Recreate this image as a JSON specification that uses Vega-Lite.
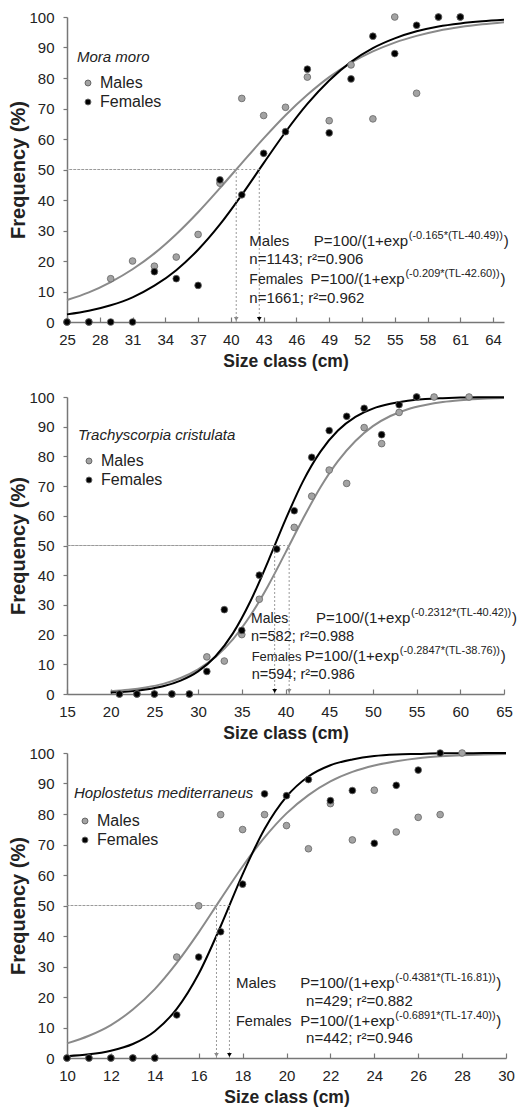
{
"$schema": "https://vega.github.io/schema/vega-lite/v6.json",
"padding": {"left": 8, "top": 10, "right": 5, "bottom": 3},
"spacing": 20,
"resolve": {"scale": {"fill": "independent", "color": "independent"}, "legend": {"fill": "independent", "color": "independent"}},
"config": {
 "font": "Liberation Sans",
 "view": {"stroke": null},
 "axis": {"grid": false, "domainColor": "#777777", "domainWidth": 1.5, "tickColor": "#777777", "tickWidth": 1.2, "labelFontSize": 15, "labelColor": "#222222", "titleFontSize": 17.5, "titleColor": "#222222", "titleFontWeight": "bold", "labelOverlap": false, "labelFlush": false},
 "axisX": {"tickSize": -5, "labelPadding": 15, "titlePadding": 5},
 "axisY": {"tickSize": 4, "labelPadding": 9, "titleFontSize": 20, "titlePadding": 0},
 "legend": {"labelFontSize": 16, "labelColor": "#222222", "titleFontSize": 15, "titleFontStyle": "italic", "titleFontWeight": "normal", "titleColor": "#222222", "symbolType": "circle", "symbolSize": 35, "rowPadding": 3, "titlePadding": 10, "symbolOffset": 3, "labelOffset": 4, "symbolStrokeWidth": 1, "symbolStrokeColor": "#666666", "titleLimit": 400}
},
"datasets": {
 "p1": [
  {"sex":"Males","size":25,"p":0},{"sex":"Males","size":27,"p":0},{"sex":"Males","size":29,"p":14.2},{"sex":"Males","size":31,"p":20.0},{"sex":"Males","size":33,"p":18.3},{"sex":"Males","size":35,"p":21.3},{"sex":"Males","size":37,"p":28.7},{"sex":"Males","size":39,"p":45.5},{"sex":"Males","size":41,"p":73.3},{"sex":"Males","size":43,"p":67.7},{"sex":"Males","size":45,"p":70.4},{"sex":"Males","size":47,"p":80.3},{"sex":"Males","size":49,"p":66.0},{"sex":"Males","size":51,"p":84.3},{"sex":"Males","size":53,"p":66.6},{"sex":"Males","size":55,"p":100},{"sex":"Males","size":57,"p":75.0},{"sex":"Males","size":59,"p":100},{"sex":"Males","size":61,"p":100},
  {"sex":"Females","size":25,"p":0},{"sex":"Females","size":27,"p":0},{"sex":"Females","size":29,"p":0},{"sex":"Females","size":31,"p":0},{"sex":"Females","size":33,"p":16.5},{"sex":"Females","size":35,"p":14.2},{"sex":"Females","size":37,"p":12.0},{"sex":"Females","size":39,"p":46.6},{"sex":"Females","size":41,"p":41.7},{"sex":"Females","size":43,"p":55.3},{"sex":"Females","size":45,"p":62.4},{"sex":"Females","size":47,"p":82.9},{"sex":"Females","size":49,"p":62.0},{"sex":"Females","size":51,"p":79.7},{"sex":"Females","size":53,"p":93.7},{"sex":"Females","size":55,"p":88.0},{"sex":"Females","size":57,"p":97.3},{"sex":"Females","size":59,"p":100},{"sex":"Females","size":61,"p":100}
 ],
 "c1": [
  {"sex":"Males","size":25,"p":7.2},{"sex":"Males","size":27,"p":9.7},{"sex":"Males","size":29,"p":13.1},{"sex":"Males","size":31,"p":17.3},{"sex":"Males","size":33,"p":22.5},{"sex":"Males","size":35,"p":28.8},{"sex":"Males","size":37,"p":36.0},{"sex":"Males","size":39,"p":43.9},{"sex":"Males","size":41,"p":52.1},{"sex":"Males","size":43,"p":60.2},{"sex":"Males","size":45,"p":67.8},{"sex":"Males","size":47,"p":74.5},{"sex":"Males","size":49,"p":80.3},{"sex":"Males","size":51,"p":85.0},{"sex":"Males","size":53,"p":88.7},{"sex":"Males","size":55,"p":91.6},{"sex":"Males","size":57,"p":93.8},{"sex":"Males","size":59,"p":95.5},{"sex":"Males","size":61,"p":96.7},{"sex":"Males","size":63,"p":97.6},{"sex":"Males","size":65,"p":98.3},
  {"sex":"Females","size":25,"p":2.5},{"sex":"Females","size":27,"p":3.7},{"sex":"Females","size":29,"p":5.5},{"sex":"Females","size":31,"p":8.1},{"sex":"Females","size":33,"p":11.9},{"sex":"Females","size":35,"p":17.0},{"sex":"Females","size":37,"p":23.7},{"sex":"Females","size":39,"p":32.0},{"sex":"Females","size":41,"p":41.7},{"sex":"Females","size":43,"p":52.1},{"sex":"Females","size":45,"p":62.3},{"sex":"Females","size":47,"p":71.5},{"sex":"Females","size":49,"p":79.2},{"sex":"Females","size":51,"p":85.3},{"sex":"Females","size":53,"p":89.8},{"sex":"Females","size":55,"p":93.0},{"sex":"Females","size":57,"p":95.3},{"sex":"Females","size":59,"p":96.9},{"sex":"Females","size":61,"p":97.9},{"sex":"Females","size":63,"p":98.6},{"sex":"Females","size":65,"p":99.1}
 ],
 "l1": [{"sex":"Males","l50":40.49},{"sex":"Females","l50":42.60}],
 "e1": [
  {"sex":"Males","name":"Males","formula":"P=100/(1+exp","sup":"(-0.165*(TL-40.49))","close":")","stats":"n=1143; r²=0.906"},
  {"sex":"Females","name":"Females","formula":"P=100/(1+exp","sup":"(-0.209*(TL-42.60))","close":")","stats":"n=1661; r²=0.962"}
 ],
 "p2": [
  {"sex":"Males","size":21,"p":0},{"sex":"Males","size":23,"p":0},{"sex":"Males","size":25,"p":0},{"sex":"Males","size":27,"p":0},{"sex":"Males","size":29,"p":0},{"sex":"Males","size":31,"p":12.5},{"sex":"Males","size":33,"p":11.1},{"sex":"Males","size":35,"p":20.0},{"sex":"Males","size":37,"p":31.9},{"sex":"Males","size":41,"p":56.1},{"sex":"Males","size":43,"p":66.6},{"sex":"Males","size":45,"p":75.4},{"sex":"Males","size":47,"p":70.9},{"sex":"Males","size":49,"p":89.7},{"sex":"Males","size":51,"p":84.3},{"sex":"Males","size":53,"p":94.8},{"sex":"Males","size":55,"p":100},{"sex":"Males","size":57,"p":100},{"sex":"Males","size":61,"p":100},
  {"sex":"Females","size":21,"p":0},{"sex":"Females","size":23,"p":0},{"sex":"Females","size":25,"p":0},{"sex":"Females","size":27,"p":0},{"sex":"Females","size":29,"p":0},{"sex":"Females","size":31,"p":7.6},{"sex":"Females","size":33,"p":28.4},{"sex":"Females","size":35,"p":21.4},{"sex":"Females","size":37,"p":40.0},{"sex":"Females","size":39,"p":48.8},{"sex":"Females","size":41,"p":61.7},{"sex":"Females","size":43,"p":79.7},{"sex":"Females","size":45,"p":88.7},{"sex":"Females","size":47,"p":93.5},{"sex":"Females","size":49,"p":96.2},{"sex":"Females","size":51,"p":87.3},{"sex":"Females","size":53,"p":97.4},{"sex":"Females","size":55,"p":100}
 ],
 "c2": [
  {"sex":"Males","size":20,"p":0.9},{"sex":"Males","size":22,"p":1.4},{"sex":"Males","size":24,"p":2.2},{"sex":"Males","size":26,"p":3.4},{"sex":"Males","size":28,"p":5.4},{"sex":"Males","size":30,"p":8.3},{"sex":"Males","size":32,"p":12.5},{"sex":"Males","size":34,"p":18.5},{"sex":"Males","size":36,"p":26.5},{"sex":"Males","size":38,"p":36.4},{"sex":"Males","size":40,"p":47.6},{"sex":"Males","size":42,"p":59.0},{"sex":"Males","size":44,"p":69.6},{"sex":"Males","size":46,"p":78.4},{"sex":"Males","size":48,"p":85.2},{"sex":"Males","size":50,"p":90.2},{"sex":"Males","size":52,"p":93.6},{"sex":"Males","size":54,"p":95.9},{"sex":"Males","size":56,"p":97.3},{"sex":"Males","size":58,"p":98.3},{"sex":"Males","size":60,"p":98.9},{"sex":"Males","size":62,"p":99.3},{"sex":"Males","size":64,"p":99.6},{"sex":"Males","size":65,"p":99.7},
  {"sex":"Females","size":20,"p":0.5},{"sex":"Females","size":22,"p":0.8},{"sex":"Females","size":24,"p":1.5},{"sex":"Females","size":26,"p":2.6},{"sex":"Females","size":28,"p":4.5},{"sex":"Females","size":30,"p":7.6},{"sex":"Females","size":32,"p":12.7},{"sex":"Females","size":34,"p":20.5},{"sex":"Females","size":36,"p":31.3},{"sex":"Females","size":38,"p":44.6},{"sex":"Females","size":40,"p":58.7},{"sex":"Females","size":42,"p":71.6},{"sex":"Females","size":44,"p":81.6},{"sex":"Females","size":46,"p":88.7},{"sex":"Females","size":48,"p":93.3},{"sex":"Females","size":50,"p":96.1},{"sex":"Females","size":52,"p":97.7},{"sex":"Females","size":54,"p":98.7},{"sex":"Females","size":56,"p":99.3},{"sex":"Females","size":58,"p":99.6},{"sex":"Females","size":60,"p":99.8},{"sex":"Females","size":62,"p":99.9},{"sex":"Females","size":64,"p":99.9},{"sex":"Females","size":65,"p":99.9}
 ],
 "l2": [{"sex":"Males","l50":40.42},{"sex":"Females","l50":38.76}],
 "e2": [
  {"sex":"Males","name":"Males","formula":"P=100/(1+exp","sup":"(-0.2312*(TL-40.42))","close":")","stats":"n=582; r²=0.988"},
  {"sex":"Females","name":"Females","formula":"P=100/(1+exp","sup":"(-0.2847*(TL-38.76))","close":")","stats":"n=594; r²=0.986"}
 ],
 "p3": [
  {"sex":"Males","size":10,"p":0},{"sex":"Males","size":11,"p":0},{"sex":"Males","size":12,"p":0},{"sex":"Males","size":13,"p":0},{"sex":"Males","size":14,"p":0},{"sex":"Males","size":15,"p":33.1},{"sex":"Males","size":16,"p":49.9},{"sex":"Males","size":17,"p":79.8},{"sex":"Males","size":18,"p":74.9},{"sex":"Males","size":19,"p":79.8},{"sex":"Males","size":20,"p":76.2},{"sex":"Males","size":21,"p":68.6},{"sex":"Males","size":22,"p":83.4},{"sex":"Males","size":23,"p":71.5},{"sex":"Males","size":24,"p":87.8},{"sex":"Males","size":25,"p":74.1},{"sex":"Males","size":26,"p":78.9},{"sex":"Males","size":27,"p":79.8},{"sex":"Males","size":28,"p":100},
  {"sex":"Females","size":10,"p":0},{"sex":"Females","size":11,"p":0},{"sex":"Females","size":12,"p":0},{"sex":"Females","size":13,"p":0},{"sex":"Females","size":14,"p":0},{"sex":"Females","size":15,"p":14.1},{"sex":"Females","size":16,"p":33.1},{"sex":"Females","size":17,"p":41.4},{"sex":"Females","size":18,"p":57.0},{"sex":"Females","size":19,"p":86.6},{"sex":"Females","size":20,"p":86.0},{"sex":"Females","size":21,"p":91.3},{"sex":"Females","size":22,"p":84.4},{"sex":"Females","size":23,"p":87.7},{"sex":"Females","size":24,"p":70.4},{"sex":"Females","size":25,"p":89.4},{"sex":"Females","size":26,"p":94.4},{"sex":"Females","size":27,"p":100}
 ],
 "c3": [
  {"sex":"Males","size":10,"p":4.8},{"sex":"Males","size":11,"p":7.3},{"sex":"Males","size":12,"p":10.8},{"sex":"Males","size":13,"p":15.9},{"sex":"Males","size":14,"p":22.6},{"sex":"Males","size":15,"p":31.2},{"sex":"Males","size":16,"p":41.2},{"sex":"Males","size":17,"p":52.1},{"sex":"Males","size":18,"p":62.8},{"sex":"Males","size":19,"p":72.3},{"sex":"Males","size":20,"p":80.2},{"sex":"Males","size":21,"p":86.2},{"sex":"Males","size":22,"p":90.7},{"sex":"Males","size":23,"p":93.8},{"sex":"Males","size":24,"p":95.9},{"sex":"Males","size":25,"p":97.3},{"sex":"Males","size":26,"p":98.3},{"sex":"Males","size":27,"p":98.9},{"sex":"Males","size":28,"p":99.3},{"sex":"Males","size":29,"p":99.5},{"sex":"Males","size":30,"p":99.7},
  {"sex":"Females","size":10,"p":0.6},{"sex":"Females","size":11,"p":1.2},{"sex":"Females","size":12,"p":2.4},{"sex":"Females","size":13,"p":4.6},{"sex":"Females","size":14,"p":8.8},{"sex":"Females","size":15,"p":16.1},{"sex":"Females","size":16,"p":27.6},{"sex":"Females","size":17,"p":43.2},{"sex":"Females","size":18,"p":60.2},{"sex":"Females","size":19,"p":75.1},{"sex":"Females","size":20,"p":85.7},{"sex":"Females","size":21,"p":92.3},{"sex":"Females","size":22,"p":96.0},{"sex":"Females","size":23,"p":97.9},{"sex":"Females","size":24,"p":99.0},{"sex":"Females","size":25,"p":99.5},{"sex":"Females","size":26,"p":99.7},{"sex":"Females","size":27,"p":99.9},{"sex":"Females","size":28,"p":99.9},{"sex":"Females","size":29,"p":100.0},{"sex":"Females","size":30,"p":100.0}
 ],
 "l3": [{"sex":"Males","l50":16.81},{"sex":"Females","l50":17.40}],
 "e3": [
  {"sex":"Males","name":"Males","formula":"P=100/(1+exp","sup":"(-0.4381*(TL-16.81))","close":")","stats":"n=429; r²=0.882"},
  {"sex":"Females","name":"Females","formula":"P=100/(1+exp","sup":"(-0.6891*(TL-17.40))","close":")","stats":"n=442; r²=0.946"}
 ]
},
"vconcat": [
 {
  "width": 437, "height": 305,
  "layer": [
   {"data": {"name": "c1"}, "mark": {"type": "line", "interpolate": "monotone", "strokeWidth": 2},
    "encoding": {
     "x": {"field": "size", "type": "quantitative", "scale": {"domain": [25, 65], "nice": false, "zero": false}, "axis": {"title": "Size class (cm)", "values": [25,28,31,34,37,40,43,46,49,52,55,58,61,64], "tickCount": 50, "format": "d", "labelOverlap": false, "labelFlush": false}},
     "y": {"field": "p", "type": "quantitative", "scale": {"domain": [0, 100], "nice": false}, "axis": {"title": "Frequency (%)", "values": [0,10,20,30,40,50,60,70,80,90,100], "tickCount": 50, "format": "d", "labelOverlap": false, "labelFlush": false}},
     "color": {"field": "sex", "type": "nominal", "scale": {"domain": ["Females", "Males"], "range": ["#000000", "#8a8a8a"]}, "legend": null}}},
   {"data": {"name": "l1"}, "mark": {"type": "rule", "strokeDash": [2, 2], "color": "#9a9a9a", "strokeWidth": 1},
    "encoding": {"x": {"field": "l50", "type": "quantitative"}, "x2": {"datum": 25}, "y": {"datum": 50, "type": "quantitative"}}},
   {"data": {"name": "l1"}, "mark": {"type": "rule", "strokeDash": [2, 2], "color": "#9a9a9a", "strokeWidth": 1},
    "encoding": {"x": {"field": "l50", "type": "quantitative"}, "y": {"datum": 0, "type": "quantitative"}, "y2": {"datum": 50}}},
   {"data": {"name": "p1"}, "mark": {"type": "point", "filled": true, "shape": "circle", "size": 45, "opacity": 1, "stroke": "#666666", "strokeWidth": 0.8},
    "encoding": {"x": {"field": "size", "type": "quantitative"}, "y": {"field": "p", "type": "quantitative"},
     "fill": {"field": "sex", "type": "nominal", "scale": {"domain": ["Males", "Females"], "range": ["#a3a3a3", "#000000"]}, "legend": {"title": "Mora moro", "orient": "none", "legendX": 10, "legendY": 33}}}},
   {"data": {"name": "l1"}, "mark": {"type": "point", "filled": true, "shape": "triangle-down", "size": 22, "yOffset": -3, "opacity": 1},
    "encoding": {"x": {"field": "l50", "type": "quantitative"}, "y": {"datum": 0, "type": "quantitative"}, "color": {"field": "sex", "type": "nominal", "legend": null}}},
   {"data": {"name": "e1"}, "transform": [{"filter": "datum.sex == 'Males'"}], "mark": {"type": "text", "align": "left", "baseline": "alphabetic", "fontSize": 15, "color": "#222222"}, "encoding": {"x": {"datum": 41.69, "type": "quantitative"}, "y": {"datum": 24.9, "type": "quantitative"}, "text": {"field": "name"}}},
   {"data": {"name": "e1"}, "transform": [{"filter": "datum.sex == 'Males'"}], "mark": {"type": "text", "align": "left", "baseline": "alphabetic", "fontSize": 15, "color": "#222222"}, "encoding": {"x": {"datum": 41.69, "type": "quantitative"}, "y": {"datum": 18.9, "type": "quantitative"}, "text": {"field": "stats"}}},
   {"data": {"name": "e1"}, "transform": [{"filter": "datum.sex == 'Males'"}], "mark": {"type": "text", "align": "left", "baseline": "alphabetic", "fontSize": 15, "color": "#222222"}, "encoding": {"x": {"datum": 47.59, "type": "quantitative"}, "y": {"datum": 24.9, "type": "quantitative"}, "text": {"field": "formula"}}},
   {"data": {"name": "e1"}, "transform": [{"filter": "datum.sex == 'Males'"}], "mark": {"type": "text", "align": "left", "baseline": "alphabetic", "fontSize": 11, "dx": 95, "dy": -7, "color": "#222222"}, "encoding": {"x": {"datum": 47.59, "type": "quantitative"}, "y": {"datum": 24.9, "type": "quantitative"}, "text": {"field": "sup"}}},
   {"data": {"name": "e1"}, "transform": [{"filter": "datum.sex == 'Males'"}], "mark": {"type": "text", "align": "left", "baseline": "alphabetic", "fontSize": 15, "dx": 190, "color": "#222222"}, "encoding": {"x": {"datum": 47.59, "type": "quantitative"}, "y": {"datum": 24.9, "type": "quantitative"}, "text": {"field": "close"}}},
   {"data": {"name": "e1"}, "transform": [{"filter": "datum.sex == 'Females'"}], "mark": {"type": "text", "align": "left", "baseline": "alphabetic", "fontSize": 14, "color": "#222222"}, "encoding": {"x": {"datum": 41.69, "type": "quantitative"}, "y": {"datum": 12.3, "type": "quantitative"}, "text": {"field": "name"}}},
   {"data": {"name": "e1"}, "transform": [{"filter": "datum.sex == 'Females'"}], "mark": {"type": "text", "align": "left", "baseline": "alphabetic", "fontSize": 15, "color": "#222222"}, "encoding": {"x": {"datum": 41.69, "type": "quantitative"}, "y": {"datum": 6.35, "type": "quantitative"}, "text": {"field": "stats"}}},
   {"data": {"name": "e1"}, "transform": [{"filter": "datum.sex == 'Females'"}], "mark": {"type": "text", "align": "left", "baseline": "alphabetic", "fontSize": 15, "color": "#222222"}, "encoding": {"x": {"datum": 47.28, "type": "quantitative"}, "y": {"datum": 12.3, "type": "quantitative"}, "text": {"field": "formula"}}},
   {"data": {"name": "e1"}, "transform": [{"filter": "datum.sex == 'Females'"}], "mark": {"type": "text", "align": "left", "baseline": "alphabetic", "fontSize": 11, "dx": 95, "dy": -7, "color": "#222222"}, "encoding": {"x": {"datum": 47.28, "type": "quantitative"}, "y": {"datum": 12.3, "type": "quantitative"}, "text": {"field": "sup"}}},
   {"data": {"name": "e1"}, "transform": [{"filter": "datum.sex == 'Females'"}], "mark": {"type": "text", "align": "left", "baseline": "alphabetic", "fontSize": 15, "dx": 190, "color": "#222222"}, "encoding": {"x": {"datum": 47.28, "type": "quantitative"}, "y": {"datum": 12.3, "type": "quantitative"}, "text": {"field": "close"}}}
  ]
 },
 {
  "spacing": 4,
  "resolve": {"scale": {"fill": "independent", "color": "independent"}, "legend": {"fill": "independent", "color": "independent"}},
  "vconcat": [
   {
    "width": 437, "height": 297,
    "layer": [
     {"data": {"name": "c2"}, "mark": {"type": "line", "interpolate": "monotone", "strokeWidth": 2},
      "encoding": {
       "x": {"field": "size", "type": "quantitative", "scale": {"domain": [15, 65], "nice": false, "zero": false}, "axis": {"title": "Size class (cm)", "values": [15,20,25,30,35,40,45,50,55,60,65], "tickCount": 50, "format": "d", "labelOverlap": false, "labelFlush": false}},
       "y": {"field": "p", "type": "quantitative", "scale": {"domain": [0, 100], "nice": false}, "axis": {"title": "Frequency (%)", "values": [0,10,20,30,40,50,60,70,80,90,100], "tickCount": 50, "format": "d", "labelOverlap": false, "labelFlush": false}},
       "color": {"field": "sex", "type": "nominal", "scale": {"domain": ["Females", "Males"], "range": ["#000000", "#8a8a8a"]}, "legend": null}}},
     {"data": {"name": "l2"}, "mark": {"type": "rule", "strokeDash": [2, 2], "color": "#9a9a9a", "strokeWidth": 1},
      "encoding": {"x": {"field": "l50", "type": "quantitative"}, "x2": {"datum": 15}, "y": {"datum": 50, "type": "quantitative"}}},
     {"data": {"name": "l2"}, "mark": {"type": "rule", "strokeDash": [2, 2], "color": "#9a9a9a", "strokeWidth": 1},
      "encoding": {"x": {"field": "l50", "type": "quantitative"}, "y": {"datum": 0, "type": "quantitative"}, "y2": {"datum": 50}}},
     {"data": {"name": "p2"}, "mark": {"type": "point", "filled": true, "shape": "circle", "size": 45, "opacity": 1, "stroke": "#666666", "strokeWidth": 0.8},
      "encoding": {"x": {"field": "size", "type": "quantitative"}, "y": {"field": "p", "type": "quantitative"},
       "fill": {"field": "sex", "type": "nominal", "scale": {"domain": ["Males", "Females"], "range": ["#a3a3a3", "#000000"]}, "legend": {"title": "Trachyscorpia cristulata", "orient": "none", "legendX": 11, "legendY": 31}}}},
     {"data": {"name": "l2"}, "mark": {"type": "point", "filled": true, "shape": "triangle-down", "size": 22, "yOffset": -3, "opacity": 1},
      "encoding": {"x": {"field": "l50", "type": "quantitative"}, "y": {"datum": 0, "type": "quantitative"}, "color": {"field": "sex", "type": "nominal", "legend": null}}},
     {"data": {"name": "e2"}, "transform": [{"filter": "datum.sex == 'Males'"}], "mark": {"type": "text", "align": "left", "baseline": "alphabetic", "fontSize": 14, "color": "#222222"}, "encoding": {"x": {"datum": 36.05, "type": "quantitative"}, "y": {"datum": 23.9, "type": "quantitative"}, "text": {"field": "name"}}},
     {"data": {"name": "e2"}, "transform": [{"filter": "datum.sex == 'Males'"}], "mark": {"type": "text", "align": "left", "baseline": "alphabetic", "fontSize": 14.5, "color": "#222222"}, "encoding": {"x": {"datum": 36.05, "type": "quantitative"}, "y": {"datum": 17.7, "type": "quantitative"}, "text": {"field": "stats"}}},
     {"data": {"name": "e2"}, "transform": [{"filter": "datum.sex == 'Males'"}], "mark": {"type": "text", "align": "left", "baseline": "alphabetic", "fontSize": 15, "color": "#222222"}, "encoding": {"x": {"datum": 43.49, "type": "quantitative"}, "y": {"datum": 23.9, "type": "quantitative"}, "text": {"field": "formula"}}},
     {"data": {"name": "e2"}, "transform": [{"filter": "datum.sex == 'Males'"}], "mark": {"type": "text", "align": "left", "baseline": "alphabetic", "fontSize": 11, "dx": 95, "dy": -7, "color": "#222222"}, "encoding": {"x": {"datum": 43.49, "type": "quantitative"}, "y": {"datum": 23.9, "type": "quantitative"}, "text": {"field": "sup"}}},
     {"data": {"name": "e2"}, "transform": [{"filter": "datum.sex == 'Males'"}], "mark": {"type": "text", "align": "left", "baseline": "alphabetic", "fontSize": 15, "dx": 196, "color": "#222222"}, "encoding": {"x": {"datum": 43.49, "type": "quantitative"}, "y": {"datum": 23.9, "type": "quantitative"}, "text": {"field": "close"}}},
     {"data": {"name": "e2"}, "transform": [{"filter": "datum.sex == 'Females'"}], "mark": {"type": "text", "align": "left", "baseline": "alphabetic", "fontSize": 13, "color": "#222222"}, "encoding": {"x": {"datum": 36.13, "type": "quantitative"}, "y": {"datum": 11.0, "type": "quantitative"}, "text": {"field": "name"}}},
     {"data": {"name": "e2"}, "transform": [{"filter": "datum.sex == 'Females'"}], "mark": {"type": "text", "align": "left", "baseline": "alphabetic", "fontSize": 14.5, "color": "#222222"}, "encoding": {"x": {"datum": 36.13, "type": "quantitative"}, "y": {"datum": 5.05, "type": "quantitative"}, "text": {"field": "stats"}}},
     {"data": {"name": "e2"}, "transform": [{"filter": "datum.sex == 'Females'"}], "mark": {"type": "text", "align": "left", "baseline": "alphabetic", "fontSize": 15, "color": "#222222"}, "encoding": {"x": {"datum": 42.2, "type": "quantitative"}, "y": {"datum": 11.0, "type": "quantitative"}, "text": {"field": "formula"}}},
     {"data": {"name": "e2"}, "transform": [{"filter": "datum.sex == 'Females'"}], "mark": {"type": "text", "align": "left", "baseline": "alphabetic", "fontSize": 11, "dx": 95, "dy": -7, "color": "#222222"}, "encoding": {"x": {"datum": 42.2, "type": "quantitative"}, "y": {"datum": 11.0, "type": "quantitative"}, "text": {"field": "sup"}}},
     {"data": {"name": "e2"}, "transform": [{"filter": "datum.sex == 'Females'"}], "mark": {"type": "text", "align": "left", "baseline": "alphabetic", "fontSize": 15, "dx": 196, "color": "#222222"}, "encoding": {"x": {"datum": 42.2, "type": "quantitative"}, "y": {"datum": 11.0, "type": "quantitative"}, "text": {"field": "close"}}}
    ]
   },
   {
    "width": 439, "height": 305,
    "layer": [
     {"data": {"name": "c3"}, "mark": {"type": "line", "interpolate": "monotone", "strokeWidth": 2},
      "encoding": {
       "x": {"field": "size", "type": "quantitative", "scale": {"domain": [10, 30], "nice": false, "zero": false}, "axis": {"title": "Size class (cm)", "values": [10,12,14,16,18,20,22,24,26,28,30], "tickCount": 50, "format": "d", "labelOverlap": false, "labelFlush": false}},
       "y": {"field": "p", "type": "quantitative", "scale": {"domain": [0, 100], "nice": false}, "axis": {"title": "Frequency (%)", "values": [0,10,20,30,40,50,60,70,80,90,100], "tickCount": 50, "format": "d", "labelOverlap": false, "labelFlush": false}},
       "color": {"field": "sex", "type": "nominal", "scale": {"domain": ["Females", "Males"], "range": ["#000000", "#8a8a8a"]}, "legend": null}}},
     {"data": {"name": "l3"}, "mark": {"type": "rule", "strokeDash": [2, 2], "color": "#9a9a9a", "strokeWidth": 1},
      "encoding": {"x": {"field": "l50", "type": "quantitative"}, "x2": {"datum": 10}, "y": {"datum": 50, "type": "quantitative"}}},
     {"data": {"name": "l3"}, "mark": {"type": "rule", "strokeDash": [2, 2], "color": "#9a9a9a", "strokeWidth": 1},
      "encoding": {"x": {"field": "l50", "type": "quantitative"}, "y": {"datum": 0, "type": "quantitative"}, "y2": {"datum": 50}}},
     {"data": {"name": "p3"}, "mark": {"type": "point", "filled": true, "shape": "circle", "size": 45, "opacity": 1, "stroke": "#666666", "strokeWidth": 0.8},
      "encoding": {"x": {"field": "size", "type": "quantitative"}, "y": {"field": "p", "type": "quantitative"},
       "fill": {"field": "sex", "type": "nominal", "scale": {"domain": ["Males", "Females"], "range": ["#a3a3a3", "#000000"]}, "legend": {"title": "Hoplostetus  mediterraneus", "orient": "none", "legendX": 7, "legendY": 33, "titlePadding": 12}}}},
     {"data": {"name": "l3"}, "mark": {"type": "point", "filled": true, "shape": "triangle-down", "size": 22, "yOffset": -3, "opacity": 1},
      "encoding": {"x": {"field": "l50", "type": "quantitative"}, "y": {"datum": 0, "type": "quantitative"}, "color": {"field": "sex", "type": "nominal", "legend": null}}},
     {"data": {"name": "e3"}, "transform": [{"filter": "datum.sex == 'Males'"}], "mark": {"type": "text", "align": "left", "baseline": "alphabetic", "fontSize": 15, "color": "#222222"}, "encoding": {"x": {"datum": 17.70, "type": "quantitative"}, "y": {"datum": 22.95, "type": "quantitative"}, "text": {"field": "name"}}},
     {"data": {"name": "e3"}, "transform": [{"filter": "datum.sex == 'Males'"}], "mark": {"type": "text", "align": "left", "baseline": "alphabetic", "fontSize": 15, "color": "#222222"}, "encoding": {"x": {"datum": 20.89, "type": "quantitative"}, "y": {"datum": 17.15, "type": "quantitative"}, "text": {"field": "stats"}}},
     {"data": {"name": "e3"}, "transform": [{"filter": "datum.sex == 'Males'"}], "mark": {"type": "text", "align": "left", "baseline": "alphabetic", "fontSize": 15, "color": "#222222"}, "encoding": {"x": {"datum": 20.63, "type": "quantitative"}, "y": {"datum": 22.95, "type": "quantitative"}, "text": {"field": "formula"}}},
     {"data": {"name": "e3"}, "transform": [{"filter": "datum.sex == 'Males'"}], "mark": {"type": "text", "align": "left", "baseline": "alphabetic", "fontSize": 11, "dx": 95, "dy": -7, "color": "#222222"}, "encoding": {"x": {"datum": 20.63, "type": "quantitative"}, "y": {"datum": 22.95, "type": "quantitative"}, "text": {"field": "sup"}}},
     {"data": {"name": "e3"}, "transform": [{"filter": "datum.sex == 'Males'"}], "mark": {"type": "text", "align": "left", "baseline": "alphabetic", "fontSize": 15, "dx": 196, "color": "#222222"}, "encoding": {"x": {"datum": 20.63, "type": "quantitative"}, "y": {"datum": 22.95, "type": "quantitative"}, "text": {"field": "close"}}},
     {"data": {"name": "e3"}, "transform": [{"filter": "datum.sex == 'Females'"}], "mark": {"type": "text", "align": "left", "baseline": "alphabetic", "fontSize": 14.5, "color": "#222222"}, "encoding": {"x": {"datum": 17.70, "type": "quantitative"}, "y": {"datum": 10.6, "type": "quantitative"}, "text": {"field": "name"}}},
     {"data": {"name": "e3"}, "transform": [{"filter": "datum.sex == 'Females'"}], "mark": {"type": "text", "align": "left", "baseline": "alphabetic", "fontSize": 15, "color": "#222222"}, "encoding": {"x": {"datum": 20.89, "type": "quantitative"}, "y": {"datum": 4.9, "type": "quantitative"}, "text": {"field": "stats"}}},
     {"data": {"name": "e3"}, "transform": [{"filter": "datum.sex == 'Females'"}], "mark": {"type": "text", "align": "left", "baseline": "alphabetic", "fontSize": 15, "color": "#222222"}, "encoding": {"x": {"datum": 20.63, "type": "quantitative"}, "y": {"datum": 10.6, "type": "quantitative"}, "text": {"field": "formula"}}},
     {"data": {"name": "e3"}, "transform": [{"filter": "datum.sex == 'Females'"}], "mark": {"type": "text", "align": "left", "baseline": "alphabetic", "fontSize": 11, "dx": 95, "dy": -7, "color": "#222222"}, "encoding": {"x": {"datum": 20.63, "type": "quantitative"}, "y": {"datum": 10.6, "type": "quantitative"}, "text": {"field": "sup"}}},
     {"data": {"name": "e3"}, "transform": [{"filter": "datum.sex == 'Females'"}], "mark": {"type": "text", "align": "left", "baseline": "alphabetic", "fontSize": 15, "dx": 196, "color": "#222222"}, "encoding": {"x": {"datum": 20.63, "type": "quantitative"}, "y": {"datum": 10.6, "type": "quantitative"}, "text": {"field": "close"}}}
    ]
   }
  ]
 }
]
}
